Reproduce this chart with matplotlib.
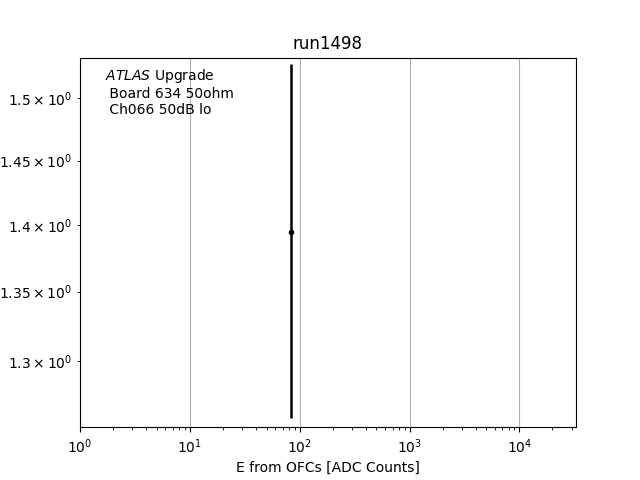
import matplotlib
matplotlib.use("Agg")
import matplotlib.pyplot as plt

# measured point
energy = [82.8]
ratio = [1.3943]
ratio_err = [0.134]

run_name = "run1498"
label_lines = ["$\\it{ATLAS}$ Upgrade", " Board 634 50ohm", " Ch066 50dB lo"]

fig, ax = plt.subplots(figsize=(6.4, 4.8), dpi=100)
ax.errorbar(energy, ratio, yerr=ratio_err, fmt='o', color='black',
            markersize=3, elinewidth=1.8)
ax.set_xscale('log')
ax.set_yscale('log')
ax.set_xlim(1, 2**15)
ax.set_ylim(1.2537, 1.5338)
ax.grid(True, axis='x', which='major')
ax.set_xlabel('E from OFCs [ADC Counts]')
ax.set_title(run_name)
ax.text(0.05, 0.975, "\n".join(label_lines), transform=ax.transAxes,
        ha='left', va='top')

fig.savefig('out.png')
